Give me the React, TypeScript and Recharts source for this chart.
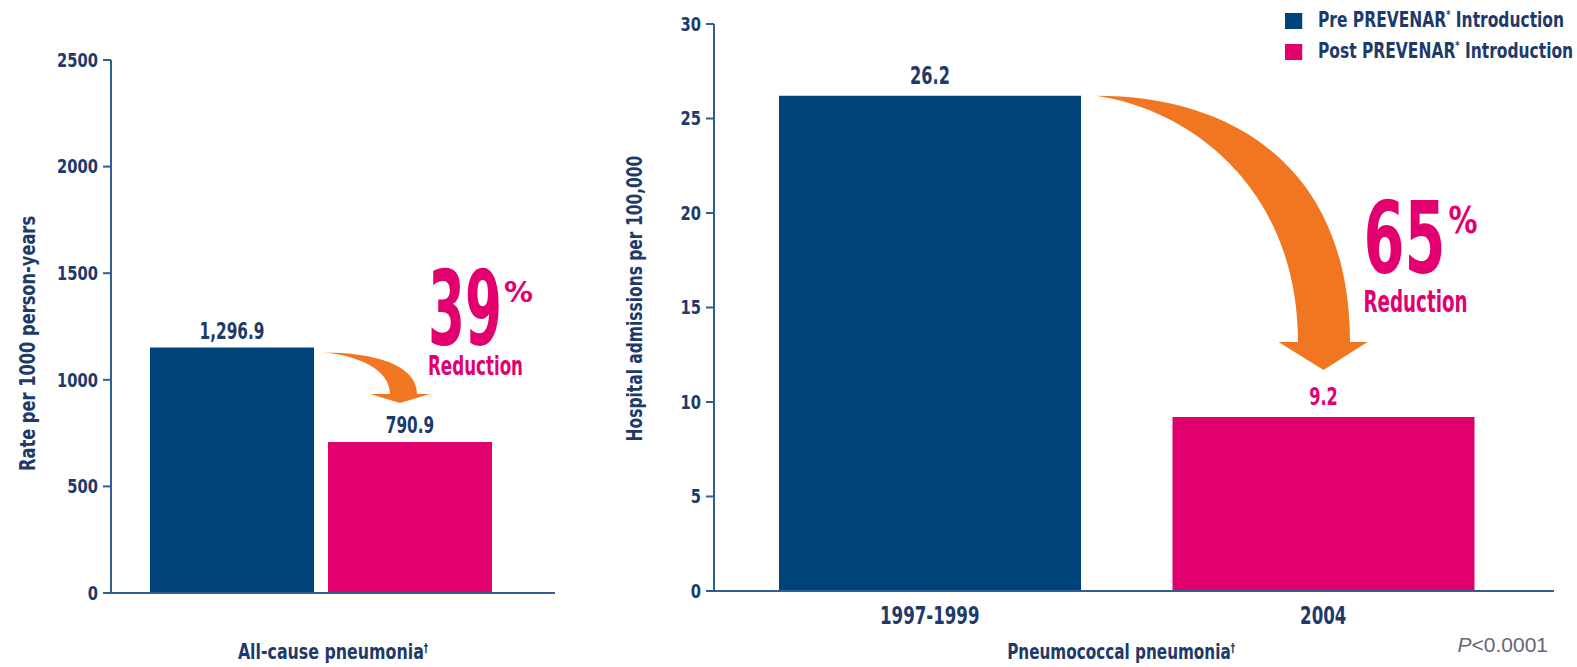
import React from 'react';
import { BarChart, Bar, XAxis, YAxis, Cell, LabelList, Legend } from 'recharts';

// ---------- data ----------
const seriesNames = ['Pre PREVENAR* Introduction', 'Post PREVENAR* Introduction'];
const seriesColors = ['#00427a', '#e2006f'];

const allCauseCategory = ['All-cause pneumonia'];
const allCauseBarHeights = [1151, 708]; // bar heights as drawn on the reference axis
const allCauseValueLabels = ['1,296.9', '790.9'];
const allCauseTicks = [0, 500, 1000, 1500, 2000, 2500];
const allCauseReduction = '39';

const pneumoPeriods = ['1997-1999', '2004'];
const pneumoValues = [26.2, 9.2];
const pneumoValueLabels = ['26.2', '9.2'];
const pneumoTicks = [0, 5, 10, 15, 20, 25, 30];
const pneumoReduction = '65';

const leftData = allCauseCategory.map((c) => ({ cat: c, pre: allCauseBarHeights[0], post: allCauseBarHeights[1] }));
const rightData = pneumoPeriods.map((p, i) => ({ period: p, value: pneumoValues[i] }));

// ---------- style ----------
const FONT = "'Liberation Sans Narrow', 'DejaVu Sans Condensed', 'Roboto Condensed', sans-serif";
const NAVY_TXT = '#1d3a6a';
const AXIS = '#2f5f90';
const ORANGE = '#f07622';
const PINK = '#e2006f';

// layout
const L = { w: 580, h: 667, top: 60, right: 25, bottom: 44, left: 51, yW: 60, xH: 30, padR: 25, barSize: 164, gap: 14 };
const R = { x: 590, w: 987, h: 667, top: 24, right: 23, bottom: 36, left: 64, yW: 60, xH: 40, padL: 19, padR: 34, barSize: 302 };
const rPlotW = R.w - R.left - R.yW - R.right;
const rBand = (rPlotW - R.padL - R.padR) / pneumoPeriods.length;

function arrowPath(tx: number, ty: number, bx: number, by: number, bw: number, hl: number, hr: number, tipX: number, tipY: number) {
  const ox = bx + bw / 2;
  const ix = bx - bw / 2;
  const dy = by - ty;
  return [
    `M${tx},${ty}`,
    `C${tx + (ox - tx) * 0.55},${ty} ${ox},${ty + dy * 0.3} ${ox},${by}`,
    `L${hr},${by}`,
    `L${tipX},${tipY}`,
    `L${hl},${by}`,
    `L${ix},${by}`,
    `C${ix},${by - dy * 0.6} ${tx + (ix - tx) * 0.5},${ty + dy * 0.06} ${tx},${ty}`,
    'Z',
  ].join(' ');
}

const boldStyle = (fs: number) => ({ fontFamily: FONT, fontWeight: 700, fontSize: fs });

// condensed text: real SVG text, horizontally squeezed
function CText(props: any) {
  const { x, y, sx, rot, children, ...rest } = props;
  const t = `translate(${x},${y})${rot ? ` rotate(${rot})` : ''} scale(${sx},1)`;
  return (
    <text x={0} y={0} transform={t} {...rest}>
      {children}
    </text>
  );
}

function geom(p: any) {
  const vb = p.viewBox || {};
  const x = Number(p.x ?? vb.x);
  const y = Number(p.y ?? vb.y);
  const width = Number(p.width ?? vb.width);
  const height = Number(p.height ?? vb.height);
  return { x, y, width, height };
}

const yTick = (p: any) => (
  <CText x={p.x} y={p.y} sx={0.86} textAnchor="end" dy="0.36em" fill={NAVY_TXT} style={boldStyle(19)}>
    {p.payload.value}
  </CText>
);

// ---------- left chart labels ----------
const leftValueLabel = (idx: number) => (p: any) => {
  const { x, y, width } = geom(p);
  return (
    <CText x={x + width / 2} y={y - 9} sx={0.74} textAnchor="middle" style={boldStyle(23)} fill={NAVY_TXT}>
      {allCauseValueLabels[idx]}
    </CText>
  );
};

const leftArrow = (p: any) => {
  const { x, y, width, height } = geom(p);
  const base = y + height;
  const pxPerUnit = height / allCauseBarHeights[1];
  const preTop = base - allCauseBarHeights[0] * pxPerUnit;
  const preRight = x - L.gap;
  const cx = x + width / 2;
  const d = arrowPath(preRight + 9, preTop + 5, cx - 6.5, y - 48, 27, cx - 40, cx + 20, cx - 10, y - 39);
  return (
    <g>
      <path d={d} fill={ORANGE} />
      <text x={x + 100} y={y - 97} textLength={74} lengthAdjust="spacingAndGlyphs" fill={PINK}
        style={boldStyle(103)}>{allCauseReduction}</text>
      <text x={x + 176} y={y - 140} textLength={29} lengthAdjust="spacingAndGlyphs" fill={PINK}
        style={boldStyle(28)}>%</text>
      <text x={x + 100} y={y - 67} textLength={95} lengthAdjust="spacingAndGlyphs" fill={PINK}
        style={boldStyle(26)}>Reduction</text>
    </g>
  );
};

// ---------- right chart labels ----------
const rightValueLabel = (p: any) => {
  const { x, y, width } = geom(p);
  const idx = Number(p.index ?? 0);
  return (
    <CText x={x + width / 2} y={y - 12} sx={0.72} textAnchor="middle" style={boldStyle(25)}
      fill={idx === 0 ? NAVY_TXT : PINK}>
      {pneumoValueLabels[idx]}
    </CText>
  );
};

const rightArrow = (p: any) => {
  const idx = Number(p.index ?? 0);
  if (idx !== 1) return null;
  const { x, y, width, height } = geom(p);
  const base = y + height;
  const pxPerUnit = height / pneumoValues[1];
  const preTop = base - pneumoValues[0] * pxPerUnit;
  const preRight = x - (rBand - R.barSize);
  const cx = x + width / 2;
  const d = arrowPath(preRight + 15, preTop, cx + 0.5, y - 75, 52, cx - 45, cx + 44, cx, y - 47);
  return (
    <g>
      <path d={d} fill={ORANGE} />
      <text x={x + 191} y={y - 144} textLength={82} lengthAdjust="spacingAndGlyphs" fill={PINK}
        style={boldStyle(100)}>{pneumoReduction}</text>
      <text x={x + 276} y={y - 184} textLength={29} lengthAdjust="spacingAndGlyphs" fill={PINK}
        style={boldStyle(38)}>%</text>
      <text x={x + 191} y={y - 105} textLength={104} lengthAdjust="spacingAndGlyphs" fill={PINK}
        style={boldStyle(30)}>Reduction</text>
    </g>
  );
};

const rightTick = (p: any) => {
  const { x, y, payload } = p;
  return (
    <CText x={x} y={y + 25} sx={0.74} textAnchor="middle" style={boldStyle(25)} fill={NAVY_TXT}>
      {payload.value}
    </CText>
  );
};

const dagger = (fs: number) => (
  <tspan dy={-7} style={{ fontSize: fs }}>†</tspan>
);

const LEG_SX = 0.82;
const legendContent = () => (
  <div style={{ fontFamily: FONT, fontWeight: 700, fontSize: 21, color: NAVY_TXT, lineHeight: '31px', whiteSpace: 'nowrap',
    transform: `scale(${LEG_SX},1)`, transformOrigin: 'left top' }}>
    {seriesNames.map((n, i) => {
      const [before, after] = n.split('*');
      return (
        <div key={n} style={{ display: 'flex', alignItems: 'center' }}>
          <span style={{ display: 'inline-block', flexShrink: 0, width: 17 / LEG_SX, height: 16, background: seriesColors[i], marginRight: 16 / LEG_SX }} />
          <span style={{ flexShrink: 0 }}>{before}<sup style={{ fontSize: 11, verticalAlign: 'top', lineHeight: '20px' }}>*</sup>{after}</span>
        </div>
      );
    })}
  </div>
);

export default function App() {
  return (
    <div style={{ position: 'absolute', left: 0, top: 0, width: 1577, height: 667, background: '#fff', overflow: 'hidden' }}>
      <div style={{ position: 'absolute', left: 0, top: 0 }}>
        <BarChart width={L.w} height={L.h} data={leftData} barSize={L.barSize} barGap={L.gap}
          margin={{ top: L.top, right: L.right, bottom: L.bottom, left: L.left }}>
          <XAxis dataKey="cat" height={L.xH} tick={false} tickLine={false} padding={{ left: 0, right: L.padR }}
            axisLine={{ stroke: AXIS, strokeWidth: 2 }}
            label={{
              content: (p: any) => {
                const vb = p.viewBox;
                return (
                  <CText x={vb.x + vb.width / 2} y={vb.y + 66} sx={0.8} textAnchor="middle" style={boldStyle(22)} fill={NAVY_TXT}>
                    {allCauseCategory[0]}{dagger(12)}
                  </CText>
                );
              },
            }} />
          <YAxis width={L.yW} domain={[0, 2500]} ticks={allCauseTicks} tick={yTick} tickSize={8} tickMargin={5}
            tickLine={{ stroke: AXIS, strokeWidth: 2 }} axisLine={{ stroke: AXIS, strokeWidth: 2 }} interval={0}
            label={{
              content: (p: any) => {
                const vb = p.viewBox;
                return (
                  <CText x={vb.x - 23} y={vb.y + vb.height / 2 + 17} rot={-90} sx={0.86} textAnchor="middle" dominantBaseline="central"
                    style={boldStyle(21)} fill={NAVY_TXT}>Rate per 1000 person-years</CText>
                );
              },
            }} />
          <Bar dataKey="pre" name={seriesNames[0]} fill={seriesColors[0]} isAnimationActive={false}>
            <LabelList dataKey="pre" content={leftValueLabel(0)} />
          </Bar>
          <Bar dataKey="post" name={seriesNames[1]} fill={seriesColors[1]} isAnimationActive={false}>
            <LabelList dataKey="post" content={leftValueLabel(1)} />
            <LabelList dataKey="post" content={leftArrow} />
          </Bar>
        </BarChart>
      </div>
      <div style={{ position: 'absolute', left: R.x, top: 0 }}>
        <BarChart width={R.w} height={R.h} data={rightData} barSize={R.barSize}
          margin={{ top: R.top, right: R.right, bottom: R.bottom, left: R.left }}>
          <XAxis dataKey="period" height={R.xH} tick={rightTick} tickLine={false} interval={0}
            padding={{ left: R.padL, right: R.padR }} axisLine={{ stroke: AXIS, strokeWidth: 2 }}
            label={{
              content: (p: any) => {
                const vb = p.viewBox;
                return (
                  <g>
                    <CText x={531} y={vb.y + 68} sx={0.77} textAnchor="middle" style={boldStyle(22)} fill={NAVY_TXT}>
                      Pneumococcal pneumonia{dagger(12)}
                    </CText>
                    <text x={958} y={vb.y + 61} textAnchor="end" fill="#666677"
                      style={{ fontFamily: "'Liberation Sans', Arial, sans-serif", fontSize: 21 }}>
                      <tspan style={{ fontStyle: 'italic' }}>P</tspan>&lt;0.0001
                    </text>
                  </g>
                );
              },
            }} />
          <YAxis width={R.yW} domain={[0, 30]} ticks={pneumoTicks} tick={yTick} tickSize={8} tickMargin={5}
            tickLine={{ stroke: AXIS, strokeWidth: 2 }} axisLine={{ stroke: AXIS, strokeWidth: 2 }} interval={0}
            label={{
              content: (p: any) => {
                const vb = p.viewBox;
                return (
                  <CText x={vb.x - 19} y={vb.y + vb.height / 2 - 9} rot={-90} sx={0.82} textAnchor="middle" dominantBaseline="central"
                    style={boldStyle(21)} fill={NAVY_TXT}>Hospital admissions per 100,000</CText>
                );
              },
            }} />
          <Legend layout="vertical" align="center" verticalAlign="middle" content={legendContent}
            wrapperStyle={{ top: 5, left: 695, width: 300, height: 64 }} />
          <Bar dataKey="value" isAnimationActive={false}>
            {rightData.map((d, i) => (
              <Cell key={d.period} fill={seriesColors[i]} />
            ))}
            <LabelList dataKey="value" content={rightValueLabel} />
            <LabelList dataKey="value" content={rightArrow} />
          </Bar>
        </BarChart>
      </div>
    </div>
  );
}
